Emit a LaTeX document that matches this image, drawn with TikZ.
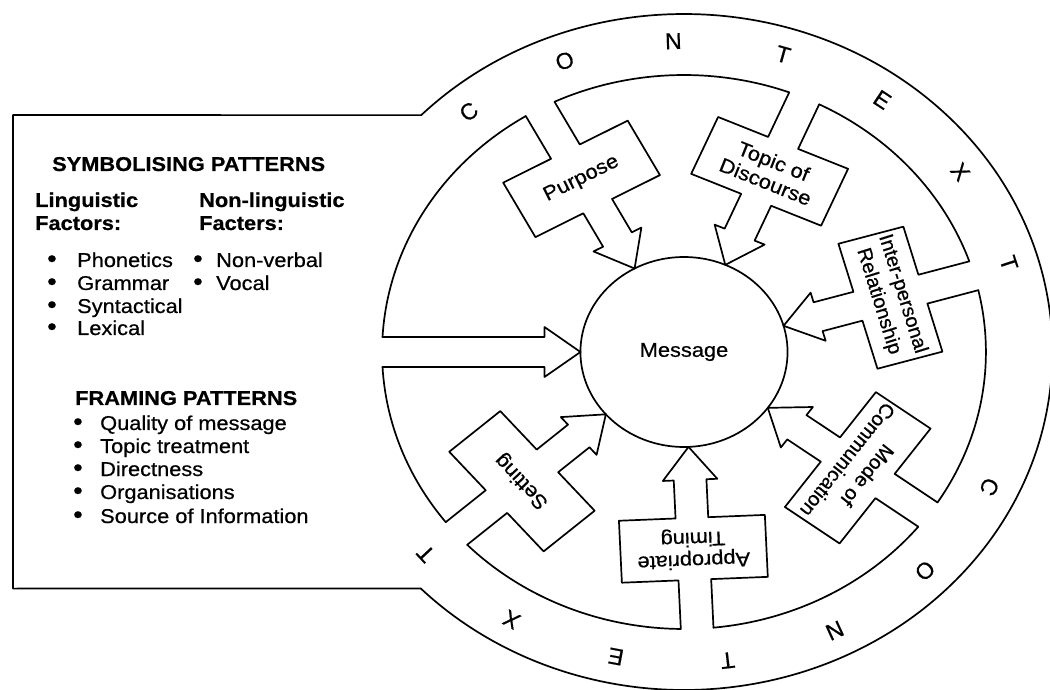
\documentclass[tikz,border=0pt]{standalone}
\usepackage{fontspec}
\setmainfont{Liberation Sans}[FakeStretch=1.09,FakeBold=0.6]
\newfontfamily\plainsf{Liberation Sans}[FakeBold=0.6]
\begin{document}
\begin{tikzpicture}[x=1pt,y=1pt,
  ln/.style={line width=1.7pt, line join=round, line cap=round},
  lt/.style={inner sep=0pt, anchor=base west, font=\fontsize{20}{23}\selectfont},
  lb/.style={inner sep=0pt, anchor=base west, font=\fontsize{20}{23}\selectfont\bfseries},
  bul/.style={inner sep=0pt, anchor=base west, font=\fontsize{25}{23}\selectfont},
  lab/.style={inner sep=0pt, align=center, font=\fontsize{20}{22}\selectfont},
  labp/.style={inner sep=0pt, align=center, font=\fontsize{20}{25}\selectfont\plainsf},
  ctx/.style={inner sep=0pt, font=\fontsize{23}{23}\selectfont\plainsf}]
\useasboundingbox (0,0) rectangle (1050,689);
\fill[white] (0,0) rectangle (1050,689);

\begin{scope}[shift={(684,337)}, xscale=1.09]
  % outer boundary with the left box
  \draw[ln] (135.5:338) arc[start angle=135.5, end angle=-135.6, radius=338]
     -- (-615.6,-236.6) -- (-615.6,236.9) -- cycle;
  % message circle
  \draw[ln] (0,0) circle[radius=95];
  \node[lab] (msg) at (0,0) {Message};
  % ring arcs between the spokes
  \foreach \a/\b in {176.9/121.6, 115.4/69.6, 63.4/19.1, 12.9/-32.9,
                     -39.1/-84.4, -90.6/-135.9, -142.1/-176.9}
    \draw[ln] (\a:277) arc[start angle=\a, end angle=\b, radius=277];
  % spokes with label boxes
  \foreach \t/\w in {118.5/65, 66.5/65, 16/65, -36/71, -87.5/67, -139/66}{
    \begin{scope}[rotate=\t]
      \draw[ln] (276.6,15) -- (228,15) -- (228,\w) -- (166,\w) -- (166,15)
        -- (128,15) -- (128,25) -- (95,0) -- (128,-25) -- (128,-15)
        -- (166,-15) -- (166,-\w) -- (228,-\w) -- (228,-15) -- (276.6,-15);
    \end{scope}
  }
  % left spoke (from the box)
  \begin{scope}[rotate=180]
    \draw[ln] (276.6,15) -- (128,15) -- (128,25) -- (95,0) -- (128,-25)
      -- (128,-15) -- (276.6,-15);
  \end{scope}
  % labels
  \pgfmathsetmacro\rp{atan2(-cos(118.5),1.09*sin(118.5))}
  \node[lab, rotate=\rp] (purpose) at (118.5:197) {Purpose};
  \pgfmathsetmacro\rt{atan2(-cos(66.5),1.09*sin(66.5))}
  \node[lab, rotate=\rt] (topic) at (66.5:197) {Topic of\\Discourse};
  \pgfmathsetmacro\ri{atan2(-cos(16),1.09*sin(16))}
  \node[labp, rotate=\ri] (inter) at (16:197) {Inter-personal\\Relationship};
  \pgfmathsetmacro\rm{atan2(-cos(-36),1.09*sin(-36))}
  \node[labp, rotate=\rm] (mode) at (-36:197) {Mode of\\Communication};
  \pgfmathsetmacro\rti{atan2(-cos(-87.5),1.09*sin(-87.5))}
  \node[lab, rotate=\rti] (timing) at (-87.5:197) {Appropriate\\Timing};
  \pgfmathsetmacro\rs{atan2(-cos(-139),1.09*sin(-139))}
  \node[lab, rotate=\rs] (setting) at (-139:197) {Setting};
  % CONTEXT letters
  \foreach \a/\l [count=\i] in {129.4/C, 110.6/O, 91.8/N, 73/T, 54.2/E, 35.4/X, 16.6/T,
                    -25.7/C, -44.7/O, -63.6/N, -82.6/T, -101.6/E, -120.6/X, -139.6/T}{
    \pgfmathsetmacro\rr{atan2(-cos(\a),1.09*sin(\a))}
    \node[ctx, rotate=\rr] (ctx\i) at (\a:311) {\l};
  }
\end{scope}

% left box text
\node[lb] (sym) at (52,518) {SYMBOLISING PATTERNS};
\node[lb] (ling1) at (35,482) {Linguistic};
\node[lb] (ling2) at (35,459) {Factors:};
\node[lb] (non1) at (199,482) {Non-linguistic};
\node[lb] (non2) at (199,459) {Facters:};
\foreach \y/\t [count=\i] in {422/Phonetics, 399/Grammar, 376/Syntactical, 354/Lexical}{
  \node[bul] (ba\i) at (47,\y) {•};
  \node[lt] (ta\i) at (77,\y) {\t};
}
\foreach \y/\t [count=\i] in {422/Non-verbal, 399/Vocal}{
  \node[bul] (bb\i) at (193,\y) {•};
  \node[lt] (tb\i) at (216,\y) {\t};
}
\node[lb] (frame) at (75,284) {FRAMING PATTERNS};
\foreach \y/\t [count=\i] in {259/Quality of message, 236/Topic treatment, 213/Directness,
                              190/Organisations, 166/Source of Information}{
  \node[bul] (bc\i) at (73,\y) {•};
  \node[lt] (tc\i) at (100,\y) {\t};
}
\end{tikzpicture}
\end{document}
